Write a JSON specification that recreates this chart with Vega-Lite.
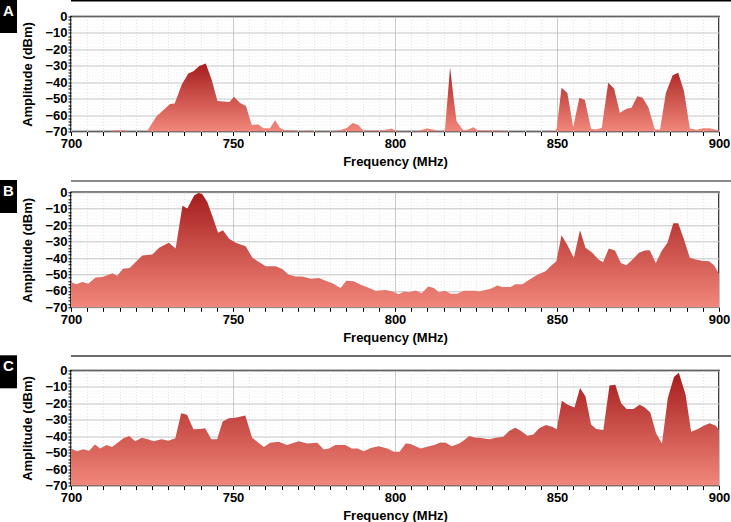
{
  "$schema": "https://vega.github.io/schema/vega-lite/v6.json",
  "padding": 0,
  "background": "white",
  "config": {
    "view": {"stroke": "black", "strokeWidth": 1.5},
    "font": "Liberation Sans",
    "axis": {
      "labelFont": "Liberation Sans",
      "labelFontWeight": "bold",
      "labelFontSize": 13,
      "labelColor": "black",
      "titleFont": "Liberation Sans",
      "titleFontWeight": "bold",
      "titleFontSize": 13,
      "titleColor": "black",
      "domain": false,
      "tickColor": "black",
      "labelOverlap": false
    }
  },
  "datasets": {
    "A": [
      {"f":700,"a":-70},{"f":712,"a":-70},{"f":713.5,"a":-69.2},{"f":716.5,"a":-69.2},{"f":718.5,"a":-70},{"f":723.4,"a":-70},{"f":726.4,"a":-60.7},{"f":730.6,"a":-53.2},{"f":732,"a":-53},{"f":734.2,"a":-41.4},{"f":736.2,"a":-34.7},{"f":737.8,"a":-33.3},{"f":739.6,"a":-30.2},{"f":741.6,"a":-28.6},{"f":743.4,"a":-38.4},{"f":745.2,"a":-51.5},{"f":747,"a":-51.7},{"f":748.9,"a":-52},{"f":750.3,"a":-48.9},{"f":752.2,"a":-52.6},{"f":754,"a":-54.5},{"f":755.8,"a":-66},{"f":757.8,"a":-65.7},{"f":759.4,"a":-68},{"f":761.4,"a":-68},{"f":763,"a":-63.1},{"f":764.5,"a":-67.8},{"f":766,"a":-69.2},{"f":768.6,"a":-69.2},{"f":770.7,"a":-69.8},{"f":773.8,"a":-69.4},{"f":775.8,"a":-69.8},{"f":780,"a":-69.8},{"f":783,"a":-69.2},{"f":785.1,"a":-67.8},{"f":786.9,"a":-64.9},{"f":788.7,"a":-66.1},{"f":790.2,"a":-69.4},{"f":793.3,"a":-69.4},{"f":796.4,"a":-69.2},{"f":799,"a":-68.2},{"f":800,"a":-69.4},{"f":802.6,"a":-69.8},{"f":806.7,"a":-69.8},{"f":809.8,"a":-68.2},{"f":811.8,"a":-68.8},{"f":813.4,"a":-69.8},{"f":815.4,"a":-69.4},{"f":817,"a":-31},{"f":818.2,"a":-51.5},{"f":819,"a":-63.7},{"f":821.1,"a":-69.4},{"f":822.6,"a":-68.8},{"f":824.2,"a":-67.4},{"f":825.7,"a":-69.4},{"f":831.4,"a":-69.4},{"f":836.5,"a":-70},{"f":849.4,"a":-69.8},{"f":849.9,"a":-68},{"f":851.4,"a":-43.4},{"f":853.2,"a":-46.5},{"f":855,"a":-67.4},{"f":856.9,"a":-49.5},{"f":858.6,"a":-50.9},{"f":860.5,"a":-68.4},{"f":862,"a":-68.8},{"f":863.8,"a":-67.8},{"f":865.8,"a":-40.4},{"f":867.6,"a":-43.8},{"f":869.4,"a":-58.6},{"f":871.5,"a":-56.2},{"f":873,"a":-55.6},{"f":874.8,"a":-48.5},{"f":876.4,"a":-49.5},{"f":878.2,"a":-55.2},{"f":880.2,"a":-68.8},{"f":881.8,"a":-68.8},{"f":883.6,"a":-46.5},{"f":885.7,"a":-35.7},{"f":887.4,"a":-34.3},{"f":889.2,"a":-45.5},{"f":891,"a":-68.2},{"f":893.1,"a":-69},{"f":895.2,"a":-68},{"f":897.2,"a":-68},{"f":900,"a":-69.4}
    ],
    "B": [
      {"f":700,"a":-54.6},{"f":701.6,"a":-55.9},{"f":703.5,"a":-54.6},{"f":705.3,"a":-55.7},{"f":707.6,"a":-51.8},{"f":709.7,"a":-51.6},{"f":712.8,"a":-49.3},{"f":714.3,"a":-50.8},{"f":716,"a":-46.5},{"f":718.1,"a":-46.1},{"f":720.2,"a":-42},{"f":722,"a":-38.5},{"f":725.1,"a":-37.9},{"f":727.2,"a":-33.8},{"f":730.2,"a":-30.7},{"f":732.3,"a":-34.2},{"f":734.4,"a":-8.2},{"f":735.9,"a":-9.8},{"f":738,"a":-2},{"f":739.3,"a":-0.4},{"f":740.5,"a":-1},{"f":742.1,"a":-6.1},{"f":743.6,"a":-14.3},{"f":745.4,"a":-24.6},{"f":746.9,"a":-23.1},{"f":748.8,"a":-28.2},{"f":750.8,"a":-30.7},{"f":753.9,"a":-32.8},{"f":756,"a":-39.9},{"f":758,"a":-42.4},{"f":760.1,"a":-45},{"f":763.2,"a":-45},{"f":765.2,"a":-46.7},{"f":767.1,"a":-50.1},{"f":769.3,"a":-51.2},{"f":771.4,"a":-51.2},{"f":774,"a":-52.6},{"f":776.5,"a":-52.2},{"f":778.6,"a":-53.8},{"f":780.7,"a":-55.3},{"f":783.2,"a":-58.3},{"f":785,"a":-53.8},{"f":787.3,"a":-54.2},{"f":789.4,"a":-56.3},{"f":790.9,"a":-57.3},{"f":794,"a":-60},{"f":797.1,"a":-59.4},{"f":799.2,"a":-60.4},{"f":801.2,"a":-62},{"f":802.8,"a":-60.4},{"f":804.3,"a":-60.8},{"f":806.4,"a":-59.8},{"f":808.2,"a":-61.4},{"f":810.3,"a":-57.3},{"f":812,"a":-58.3},{"f":813.6,"a":-60.8},{"f":815.4,"a":-60},{"f":817.2,"a":-61.8},{"f":819.2,"a":-61.8},{"f":821.3,"a":-60},{"f":824.9,"a":-60},{"f":825.9,"a":-60.4},{"f":829.5,"a":-58.7},{"f":831.6,"a":-56.7},{"f":833.1,"a":-57.7},{"f":835.7,"a":-57.7},{"f":837.2,"a":-55.9},{"f":839.3,"a":-55.9},{"f":841.9,"a":-52.6},{"f":844.4,"a":-49.7},{"f":846.5,"a":-48.1},{"f":848,"a":-45},{"f":849.8,"a":-42},{"f":851.4,"a":-26.2},{"f":853.2,"a":-32.1},{"f":855.2,"a":-39.9},{"f":857.1,"a":-23.1},{"f":858.8,"a":-33.8},{"f":860.9,"a":-36.8},{"f":862.8,"a":-40.9},{"f":864.2,"a":-42.6},{"f":866,"a":-34.2},{"f":867.9,"a":-35.4},{"f":869.7,"a":-43},{"f":871.4,"a":-44.4},{"f":873.3,"a":-40.9},{"f":875.3,"a":-36.8},{"f":877.1,"a":-35.4},{"f":878.6,"a":-35.2},{"f":880.5,"a":-43},{"f":882.3,"a":-35.8},{"f":884.1,"a":-30.7},{"f":885.9,"a":-18.8},{"f":887.4,"a":-18.8},{"f":889.2,"a":-28.7},{"f":891,"a":-39.9},{"f":892.8,"a":-40.9},{"f":894.7,"a":-41.6},{"f":896.9,"a":-42},{"f":898.5,"a":-44.4},{"f":900,"a":-49.7}
    ],
    "C": [
      {"f":700,"a":-47.5},{"f":701.8,"a":-49.1},{"f":703.8,"a":-47.9},{"f":705.6,"a":-48.9},{"f":707.4,"a":-45},{"f":709,"a":-47.5},{"f":711,"a":-45.4},{"f":712.6,"a":-46.5},{"f":714.1,"a":-44.4},{"f":716.2,"a":-41.3},{"f":718,"a":-39.9},{"f":719.8,"a":-43},{"f":721.9,"a":-40.9},{"f":723.9,"a":-42},{"f":725.5,"a":-43},{"f":728,"a":-41.8},{"f":730.1,"a":-42.8},{"f":732.2,"a":-41.3},{"f":734,"a":-26},{"f":735.8,"a":-27},{"f":737.8,"a":-35.8},{"f":739.9,"a":-35.6},{"f":741.4,"a":-35.2},{"f":743.3,"a":-41.8},{"f":745.1,"a":-41.8},{"f":746.8,"a":-31.1},{"f":748.7,"a":-29.1},{"f":750.7,"a":-28.7},{"f":753.8,"a":-27.4},{"f":755.9,"a":-40.9},{"f":759.5,"a":-46.5},{"f":761.5,"a":-44},{"f":764.1,"a":-43.4},{"f":766.7,"a":-45.4},{"f":770.3,"a":-43},{"f":772.9,"a":-44.4},{"f":776,"a":-44},{"f":778,"a":-48.1},{"f":779.6,"a":-47.5},{"f":781.6,"a":-45.4},{"f":784.7,"a":-45.4},{"f":786.6,"a":-47.5},{"f":788.4,"a":-47.5},{"f":790.4,"a":-49.1},{"f":792.5,"a":-47.1},{"f":795,"a":-46.1},{"f":797.6,"a":-47.5},{"f":799.7,"a":-49.5},{"f":801.4,"a":-49.5},{"f":803.3,"a":-44.4},{"f":804.8,"a":-44.8},{"f":807.9,"a":-47.5},{"f":810.5,"a":-46.1},{"f":812.1,"a":-45.4},{"f":814.1,"a":-43.8},{"f":815.7,"a":-44},{"f":817.5,"a":-46.1},{"f":819.8,"a":-44.4},{"f":821.3,"a":-42.4},{"f":822.9,"a":-39.9},{"f":824.9,"a":-40.9},{"f":826,"a":-40.9},{"f":829.1,"a":-41.8},{"f":831.1,"a":-40.9},{"f":833.4,"a":-40.3},{"f":835.3,"a":-36.6},{"f":837.1,"a":-34.8},{"f":838.9,"a":-36.8},{"f":840.9,"a":-39.7},{"f":842.7,"a":-38.9},{"f":844.5,"a":-35.2},{"f":846.6,"a":-33.2},{"f":848.5,"a":-34.2},{"f":849.9,"a":-35.8},{"f":851.5,"a":-18.4},{"f":853.3,"a":-20.9},{"f":855.4,"a":-22.5},{"f":857.1,"a":-10.6},{"f":858.8,"a":-15.8},{"f":860.5,"a":-32.8},{"f":862.1,"a":-35.6},{"f":864.3,"a":-36.2},{"f":866.2,"a":-9.2},{"f":868,"a":-8.6},{"f":869.8,"a":-19.9},{"f":871.5,"a":-23.5},{"f":873.6,"a":-23.5},{"f":875.5,"a":-20.9},{"f":877,"a":-22.3},{"f":878.8,"a":-25.6},{"f":880.6,"a":-38.3},{"f":882.4,"a":-44.4},{"f":884.2,"a":-16.8},{"f":886.1,"a":-3.9},{"f":887.6,"a":-1.4},{"f":889.7,"a":-14.7},{"f":891.4,"a":-37.3},{"f":893.5,"a":-35.6},{"f":895.3,"a":-33.6},{"f":897.1,"a":-32.1},{"f":899,"a":-33.6},{"f":900,"a":-36.2}
    ]
  },
  "vconcat": [
    {
      "hconcat": [
        {"width": 17, "height": 33, "view": {"fill": "black", "stroke": null}, "data": {"values": [{"t": "A"}]}, "mark": {"type": "text", "color": "white", "font": "Liberation Sans", "fontWeight": "bold", "fontSize": 15, "baseline": "middle", "align": "center", "dy": -6}, "encoding": {"text": {"field": "t"}}},
        {
          "vconcat": [
            {"width": 710, "height": 1.5, "view": {"fill": "black", "stroke": null}, "data": {"values": [{}]}, "mark": {"type": "text", "fontSize": 0, "baseline": "middle"}, "encoding": {"text": {"value": ""}}},
            {"width": 648, "height": 115, "data": {"name": "A"}, "mark": {"type": "area", "clip": true, "color": {"gradient": "linear", "x1": 0, "y1": 0, "x2": 0, "y2": 1, "stops": [{"offset": 0, "color": "#a51d1d"}, {"offset": 1, "color": "#f2877b"}]}},
             "encoding": {
              "x": {"field": "f", "type": "quantitative", "scale": {"domain": [700, 900], "nice": false},
                "axis": {"title": "Frequency (MHz)", "values": [700,705,710,715,720,725,730,735,740,745,750,755,760,765,770,775,780,785,790,795,800,805,810,815,820,825,830,835,840,845,850,855,860,865,870,875,880,885,890,895,900], "labelExpr": "datum.value % 50 === 0 ? datum.label : ''", "labelFlush": false, "grid": true, "gridColor": {"condition": {"test": "datum.value % 50 === 0", "value": "#c4c4c4"}, "value": "#e2e2e2"}, "gridDash": {"condition": {"test": "datum.value % 50 === 0", "value": []}, "value": [1, 2]}, "tickSize": 4, "labelPadding": 2, "titlePadding": 5}},
              "y": {"field": "a", "type": "quantitative", "scale": {"domain": [-70, 0], "nice": false},
                "axis": {"title": "Amplitude (dBm)", "values": [-70,-68,-66,-64,-62,-60,-58,-56,-54,-52,-50,-48,-46,-44,-42,-40,-38,-36,-34,-32,-30,-28,-26,-24,-22,-20,-18,-16,-14,-12,-10,-8,-6,-4,-2,0], "labelExpr": "datum.value % 10 === 0 ? datum.label : ''", "grid": true, "gridColor": {"condition": {"test": "datum.value % 10 === 0", "value": "#c4c4c4"}, "value": "#ececec"}, "gridDash": {"condition": {"test": "datum.value % 10 === 0", "value": []}, "value": [1, 2]}, "tickSize": 3, "labelPadding": 1, "titlePadding": 10}},
              "y2": {"datum": -70}}}
          ],
          "spacing": 7.5
        }
      ],
      "spacing": 4
    },
    {
      "vconcat": [
        {
          "hconcat": [
            {"width": 17, "height": 33, "view": {"fill": "black", "stroke": null}, "data": {"values": [{"t": "B"}]}, "mark": {"type": "text", "color": "white", "font": "Liberation Sans", "fontWeight": "bold", "fontSize": 15, "baseline": "middle", "align": "center", "dy": -6}, "encoding": {"text": {"field": "t"}}},
            {
              "vconcat": [
                {"width": 710, "height": 2, "view": {"fill": "#8a8a8a", "stroke": null}, "data": {"values": [{}]}, "mark": {"type": "text", "fontSize": 0, "baseline": "middle"}, "encoding": {"text": {"value": ""}}},
                {"width": 648, "height": 115, "data": {"name": "B"}, "mark": {"type": "area", "clip": true, "color": {"gradient": "linear", "x1": 0, "y1": 0, "x2": 0, "y2": 1, "stops": [{"offset": 0, "color": "#a51d1d"}, {"offset": 1, "color": "#f2877b"}]}},
                 "encoding": {
                  "x": {"field": "f", "type": "quantitative", "scale": {"domain": [700, 900], "nice": false},
                    "axis": {"title": "Frequency (MHz)", "values": [700,705,710,715,720,725,730,735,740,745,750,755,760,765,770,775,780,785,790,795,800,805,810,815,820,825,830,835,840,845,850,855,860,865,870,875,880,885,890,895,900], "labelExpr": "datum.value % 50 === 0 ? datum.label : ''", "labelFlush": false, "grid": true, "gridColor": {"condition": {"test": "datum.value % 50 === 0", "value": "#c4c4c4"}, "value": "#e2e2e2"}, "gridDash": {"condition": {"test": "datum.value % 50 === 0", "value": []}, "value": [1, 2]}, "tickSize": 4, "labelPadding": 2, "titlePadding": 5}},
                  "y": {"field": "a", "type": "quantitative", "scale": {"domain": [-70, 0], "nice": false},
                    "axis": {"title": "Amplitude (dBm)", "values": [-70,-68,-66,-64,-62,-60,-58,-56,-54,-52,-50,-48,-46,-44,-42,-40,-38,-36,-34,-32,-30,-28,-26,-24,-22,-20,-18,-16,-14,-12,-10,-8,-6,-4,-2,0], "labelExpr": "datum.value % 10 === 0 ? datum.label : ''", "grid": true, "gridColor": {"condition": {"test": "datum.value % 10 === 0", "value": "#c4c4c4"}, "value": "#ececec"}, "gridDash": {"condition": {"test": "datum.value % 10 === 0", "value": []}, "value": [1, 2]}, "tickSize": 3, "labelPadding": 1, "titlePadding": 10}},
                  "y2": {"datum": -70}}}
              ],
              "spacing": 3.3
            }
          ],
          "spacing": 4
        },
        {
          "hconcat": [
            {"width": 17, "height": 33, "view": {"fill": "black", "stroke": null}, "data": {"values": [{"t": "C"}]}, "mark": {"type": "text", "color": "white", "font": "Liberation Sans", "fontWeight": "bold", "fontSize": 15, "baseline": "middle", "align": "center", "dy": -6}, "encoding": {"text": {"field": "t"}}},
            {
              "vconcat": [
                {"width": 710, "height": 1.5, "view": {"fill": "#3a3a3a", "stroke": null}, "data": {"values": [{}]}, "mark": {"type": "text", "fontSize": 0, "baseline": "middle"}, "encoding": {"text": {"value": ""}}},
                {"width": 648, "height": 115, "data": {"name": "C"}, "mark": {"type": "area", "clip": true, "color": {"gradient": "linear", "x1": 0, "y1": 0, "x2": 0, "y2": 1, "stops": [{"offset": 0, "color": "#a51d1d"}, {"offset": 1, "color": "#f2877b"}]}},
                 "encoding": {
                  "x": {"field": "f", "type": "quantitative", "scale": {"domain": [700, 900], "nice": false},
                    "axis": {"title": "Frequency (MHz)", "values": [700,705,710,715,720,725,730,735,740,745,750,755,760,765,770,775,780,785,790,795,800,805,810,815,820,825,830,835,840,845,850,855,860,865,870,875,880,885,890,895,900], "labelExpr": "datum.value % 50 === 0 ? datum.label : ''", "labelFlush": false, "grid": true, "gridColor": {"condition": {"test": "datum.value % 50 === 0", "value": "#c4c4c4"}, "value": "#e2e2e2"}, "gridDash": {"condition": {"test": "datum.value % 50 === 0", "value": []}, "value": [1, 2]}, "tickSize": 4, "labelPadding": 2, "titlePadding": 5}},
                  "y": {"field": "a", "type": "quantitative", "scale": {"domain": [-70, 0], "nice": false},
                    "axis": {"title": "Amplitude (dBm)", "values": [-70,-68,-66,-64,-62,-60,-58,-56,-54,-52,-50,-48,-46,-44,-42,-40,-38,-36,-34,-32,-30,-28,-26,-24,-22,-20,-18,-16,-14,-12,-10,-8,-6,-4,-2,0], "labelExpr": "datum.value % 10 === 0 ? datum.label : ''", "grid": true, "gridColor": {"condition": {"test": "datum.value % 10 === 0", "value": "#c4c4c4"}, "value": "#ececec"}, "gridDash": {"condition": {"test": "datum.value % 10 === 0", "value": []}, "value": [1, 2]}, "tickSize": 3, "labelPadding": 1, "titlePadding": 10}},
                  "y2": {"datum": -70}}}
              ],
              "spacing": 6.2
            }
          ],
          "spacing": 4
        }
      ],
      "spacing": 9.3
    }
  ],
  "spacing": 10
}
